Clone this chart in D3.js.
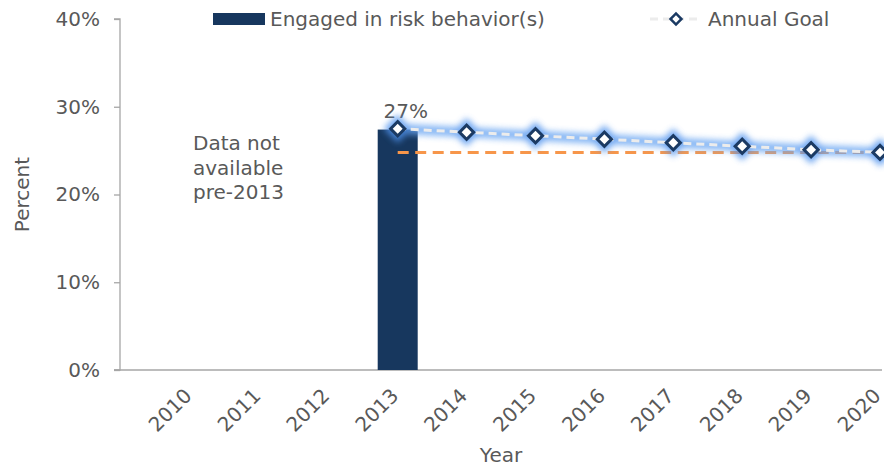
<!DOCTYPE html>
<html>
<head>
<meta charset="utf-8">
<script src="https://cdn.jsdelivr.net/npm/d3@7/dist/d3.min.js"></script>
<style>
  html, body { margin: 0; padding: 0; background: #fff; }
  svg { display: block; font-family: "DejaVu Sans", Verdana, sans-serif; }
</style>
</head>
<body>
<svg id="chart" width="884" height="466"></svg>
<script>
// Years shown on the x axis
const years = ["2010","2011","2012","2013","2014","2015","2016","2017","2018","2019","2020"];
// Share of students engaged in risk behavior(s); only 2013 is measured
const riskYears = ["2013"];
const riskValues = [27.4];
// Annual goal trajectory from the 2013 baseline
const goalYears = ["2013","2014","2015","2016","2017","2018","2019","2020"];
const goalValues = [27.5, 27.1, 26.7, 26.3, 25.9, 25.5, 25.1, 24.8];
// Final 2020 target, drawn as a flat reference line
const targetYears = ["2013","2020"];
const targetValues = [24.8, 24.8];
// Y axis ticks (percent)
const yTicks = [0, 10, 20, 30, 40];

const svg = d3.select("#chart");
const W = 884, H = 466;
const m = { left: 120, right: 4, top: 19, bottom: 96 };
const textColor = "#595959";
const axisColor = "#a6a6a6";
const fs = "20px";

const y = d3.scaleLinear().domain([0, 40]).range([H - m.bottom, m.top]);
const x = d3.scalePoint().domain(years).range([191, 880]);
const barW = 40;

// Glow filter for the goal series
const defs = svg.append("defs");
const glow = defs.append("filter").attr("id", "glow")
  .attr("x", "-20%").attr("y", "-200%").attr("width", "140%").attr("height", "500%");
glow.append("feGaussianBlur").attr("stdDeviation", 3.2);

// Y axis
const yAxis = svg.append("g")
  .attr("transform", `translate(${m.left},0)`)
  .call(d3.axisLeft(y).tickValues(yTicks).tickFormat(d => d + "%").tickSize(6).tickPadding(14));
yAxis.select(".domain").attr("stroke", axisColor).attr("stroke-width", 1.3)
  .attr("d", `M-6,${y(40)}H0V${y(0)}H-6`);
yAxis.selectAll(".tick line").attr("stroke", axisColor).attr("stroke-width", 1.3);
yAxis.selectAll(".tick text").attr("fill", textColor).style("font-size", fs)
  .style("font-family", "DejaVu Sans, Verdana, sans-serif");

// X axis baseline
svg.append("line")
  .attr("x1", m.left - 6).attr("x2", 882)
  .attr("y1", y(0)).attr("y2", y(0))
  .attr("stroke", axisColor).attr("stroke-width", 1.5);

// Bars
svg.append("g").selectAll("rect")
  .data(riskYears.map((d, i) => ({ year: d, v: riskValues[i] })))
  .join("rect")
  .attr("x", d => x(d.year) - barW / 2)
  .attr("width", barW)
  .attr("y", d => y(d.v))
  .attr("height", d => y(0) - y(d.v))
  .attr("fill", "#17375e");

// Bar value labels
svg.append("g").selectAll("text")
  .data(riskYears.map((d, i) => ({ year: d, v: riskValues[i] })))
  .join("text")
  .attr("x", d => x(d.year) + 8)
  .attr("y", d => y(d.v) - 12)
  .attr("text-anchor", "middle")
  .attr("fill", textColor)
  .style("font-size", fs)
  .text(d => d3.format(".0f")(d.v) + "%");

// Target reference line
const targetLine = d3.line().x(d => x(d.year)).y(d => y(d.v));
const targetData = targetYears.map((d, i) => ({ year: d, v: targetValues[i] }));
svg.append("path")
  .datum(targetData)
  .attr("d", targetLine)
  .attr("fill", "none")
  .attr("stroke", "#f7964a")
  .attr("stroke-width", 3)
  .attr("stroke-dasharray", "11,6.5");

// Goal series
const goalData = goalYears.map((d, i) => ({ year: d, v: goalValues[i] }));
const goalLine = d3.line().x(d => x(d.year)).y(d => y(d.v));
const diamond = d3.symbol().type(d3.symbolSquare).size(100);

const glowG = svg.append("g").attr("filter", "url(#glow)").attr("opacity", 0.8);
glowG.append("path")
  .datum(goalData)
  .attr("d", goalLine)
  .attr("fill", "none")
  .attr("stroke", "#6aa6f2")
  .attr("stroke-width", 10);
glowG.selectAll("path.gm")
  .data(goalData)
  .join("path")
  .attr("class", "gm")
  .attr("d", d3.symbol().type(d3.symbolSquare).size(400)())
  .attr("transform", d => `translate(${x(d.year)},${y(d.v)}) rotate(45)`)
  .attr("fill", "#4f93ee");

svg.append("path")
  .datum(goalData)
  .attr("d", goalLine)
  .attr("fill", "none")
  .attr("stroke", "#ececec")
  .attr("stroke-width", 3)
  .attr("stroke-dasharray", "8,5");

svg.append("g").selectAll("path")
  .data(goalData)
  .join("path")
  .attr("d", diamond())
  .attr("transform", d => `translate(${x(d.year)},${y(d.v)}) rotate(45)`)
  .attr("fill", "#ffffff")
  .attr("stroke", "#1b3a63")
  .attr("stroke-width", 3);

// X tick labels (rotated)
svg.append("g").selectAll("text")
  .data(years)
  .join("text")
  .attr("transform", d => `translate(${x(d) + 2},${y(0) + 27}) rotate(-45)`)
  .attr("text-anchor", "end")
  .attr("fill", textColor)
  .style("font-size", fs)
  .text(d => d);

// Axis titles
svg.append("text")
  .attr("x", 501).attr("y", 462)
  .attr("text-anchor", "middle")
  .attr("fill", textColor)
  .style("font-size", fs)
  .text("Year");
svg.append("text")
  .attr("transform", `translate(29,${(y(0) + y(40)) / 2}) rotate(-90)`)
  .attr("text-anchor", "middle")
  .attr("fill", textColor)
  .style("font-size", fs)
  .text("Percent");

// Annotation for missing years
const note = svg.append("text")
  .attr("x", 193).attr("y", 150)
  .attr("fill", textColor)
  .style("font-size", fs);
["Data not", "available", "pre-2013"].forEach((t, i) => {
  note.append("tspan").attr("x", 193).attr("dy", i === 0 ? 0 : 24.5).text(t);
});

// Legend
const lg = svg.append("g");
lg.append("rect").attr("x", 213).attr("y", 13).attr("width", 52).attr("height", 12).attr("fill", "#17375e");
lg.append("text").attr("x", 270).attr("y", 26).attr("fill", textColor).style("font-size", fs)
  .text("Engaged in risk behavior(s)");
lg.append("line").attr("x1", 650).attr("x2", 702).attr("y1", 19).attr("y2", 19)
  .attr("stroke", "#ececec").attr("stroke-width", 3).attr("stroke-dasharray", "8,5");
lg.append("path").attr("d", d3.symbol().type(d3.symbolSquare).size(60)())
  .attr("transform", "translate(676,19) rotate(45)")
  .attr("fill", "#fff").attr("stroke", "#1b3a63").attr("stroke-width", 2.5);
lg.append("text").attr("x", 708).attr("y", 26).attr("fill", textColor).style("font-size", fs)
  .text("Annual Goal");
</script>
</body>
</html>
